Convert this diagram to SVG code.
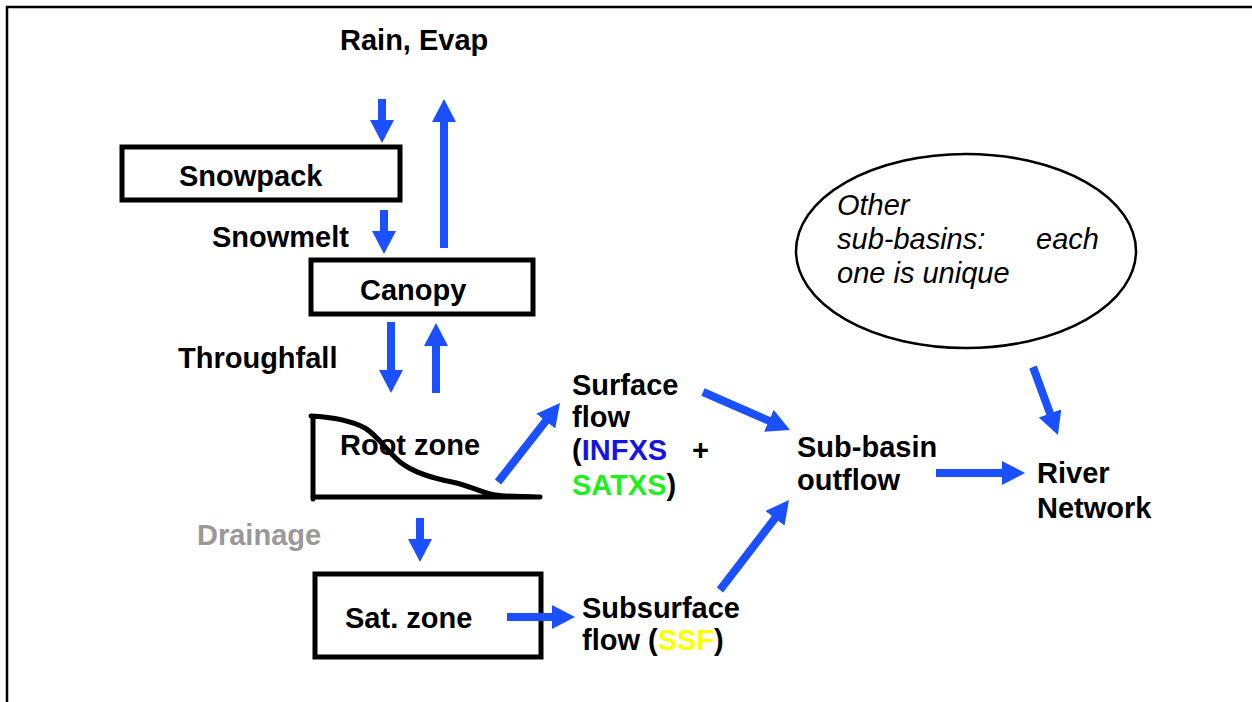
<svg xmlns="http://www.w3.org/2000/svg" width="1252" height="702" viewBox="0 0 1252 702">
<style>
.t{font-family:"Liberation Sans",Arial,sans-serif;font-size:29px;font-weight:bold;fill:#000}
.i{font-family:"Liberation Sans",Arial,sans-serif;font-size:29px;font-style:italic;fill:#000}
.box{fill:#fff;stroke:#000;stroke-width:5}
.a{stroke:#1a50ff;stroke-width:8;fill:none;marker-end:url(#ah)}
</style>
<defs>
<marker id="ah" markerUnits="userSpaceOnUse" markerWidth="24" markerHeight="24" viewBox="0 0 24 24" refX="1" refY="12" orient="auto">
<path d="M0,0 L23,12 L0,24 Z" fill="#1a50ff"/>
</marker>
</defs>
<rect width="1252" height="702" fill="#fff"/>
<path d="M7,702 V7 H1252" fill="none" stroke="#000" stroke-width="2.5"/>
<g id="rain"><text class="t" x="340" y="50">Rain, Evap</text></g>
<g id="snowpack"><rect class="box" x="122" y="147" width="278" height="53"/><text class="t" x="179" y="186">Snowpack</text></g>
<g id="snowmelt"><text class="t" x="212" y="247">Snowmelt</text></g>
<g id="canopy"><rect class="box" x="311" y="260" width="222" height="54"/><text class="t" x="360" y="300">Canopy</text></g>
<g id="throughfall"><text class="t" x="178" y="368">Throughfall</text></g>
<g id="rootzone">
<path d="M313,499 V418 M311,416 C330,417 350,420 365,428 C378,436 386,450 400,462 C414,473 432,478 452,482 C468,485 482,493 495,495 C510,497 525,496 540,497 M313,497 H540" fill="none" stroke="#000" stroke-width="5" stroke-linecap="round"/>
<text class="t" x="340" y="455">Root zone</text>
</g>
<g id="drainage"><text class="t" x="197" y="545" style="fill:#999999">Drainage</text></g>
<g id="satzone"><rect class="box" x="315" y="574" width="226" height="83"/><text class="t" x="345" y="628">Sat. zone</text></g>
<g id="surface">
<text class="t" x="572" y="395">Surface</text>
<text class="t" x="572" y="427">flow</text>
<text class="t" x="572" y="460">(<tspan fill="#1414e6">INFXS</tspan></text>
<text class="t" x="692" y="460">+</text>
<text class="t" x="572" y="495"><tspan fill="#1ef01e">SATXS</tspan>)</text>
</g>
<g id="subsurface">
<text class="t" x="582" y="618">Subsurface</text>
<text class="t" x="582" y="650">flow (<tspan fill="#ffff00">SSF</tspan>)</text>
</g>
<g id="outflow">
<text class="t" x="797" y="457">Sub-basin</text>
<text class="t" x="797" y="490">outflow</text>
</g>
<g id="river">
<text class="t" x="1037" y="483">River</text>
<text class="t" x="1037" y="518">Network</text>
</g>
<g id="others">
<ellipse cx="966" cy="251" rx="170" ry="97" fill="#fff" stroke="#000" stroke-width="2.5"/>
<text class="i" x="837" y="215">Other</text>
<text class="i" x="837" y="249">sub-basins:</text>
<text class="i" x="1036" y="249">each</text>
<text class="i" x="837" y="283">one is unique</text>
</g>
<g id="connectors">
<line class="a" x1="382" y1="99" x2="382" y2="121"/>
<line class="a" x1="444" y1="248" x2="444" y2="121"/>
<line class="a" x1="384" y1="210" x2="384" y2="232"/>
<line class="a" x1="391" y1="322" x2="391" y2="371"/>
<line class="a" x1="436" y1="393" x2="436" y2="345"/>
<line class="a" x1="498" y1="482" x2="546.4" y2="420.3"/>
<line class="a" x1="420" y1="518" x2="420" y2="540"/>
<line class="a" x1="507" y1="617" x2="553" y2="617"/>
<line class="a" x1="703" y1="392" x2="769.8" y2="421.2"/>
<line class="a" x1="720" y1="590" x2="775.6" y2="517.5"/>
<line class="a" x1="936" y1="473" x2="1003" y2="473"/>
<line class="a" x1="1033" y1="367" x2="1050.4" y2="414.3"/>
</g>
</svg>
